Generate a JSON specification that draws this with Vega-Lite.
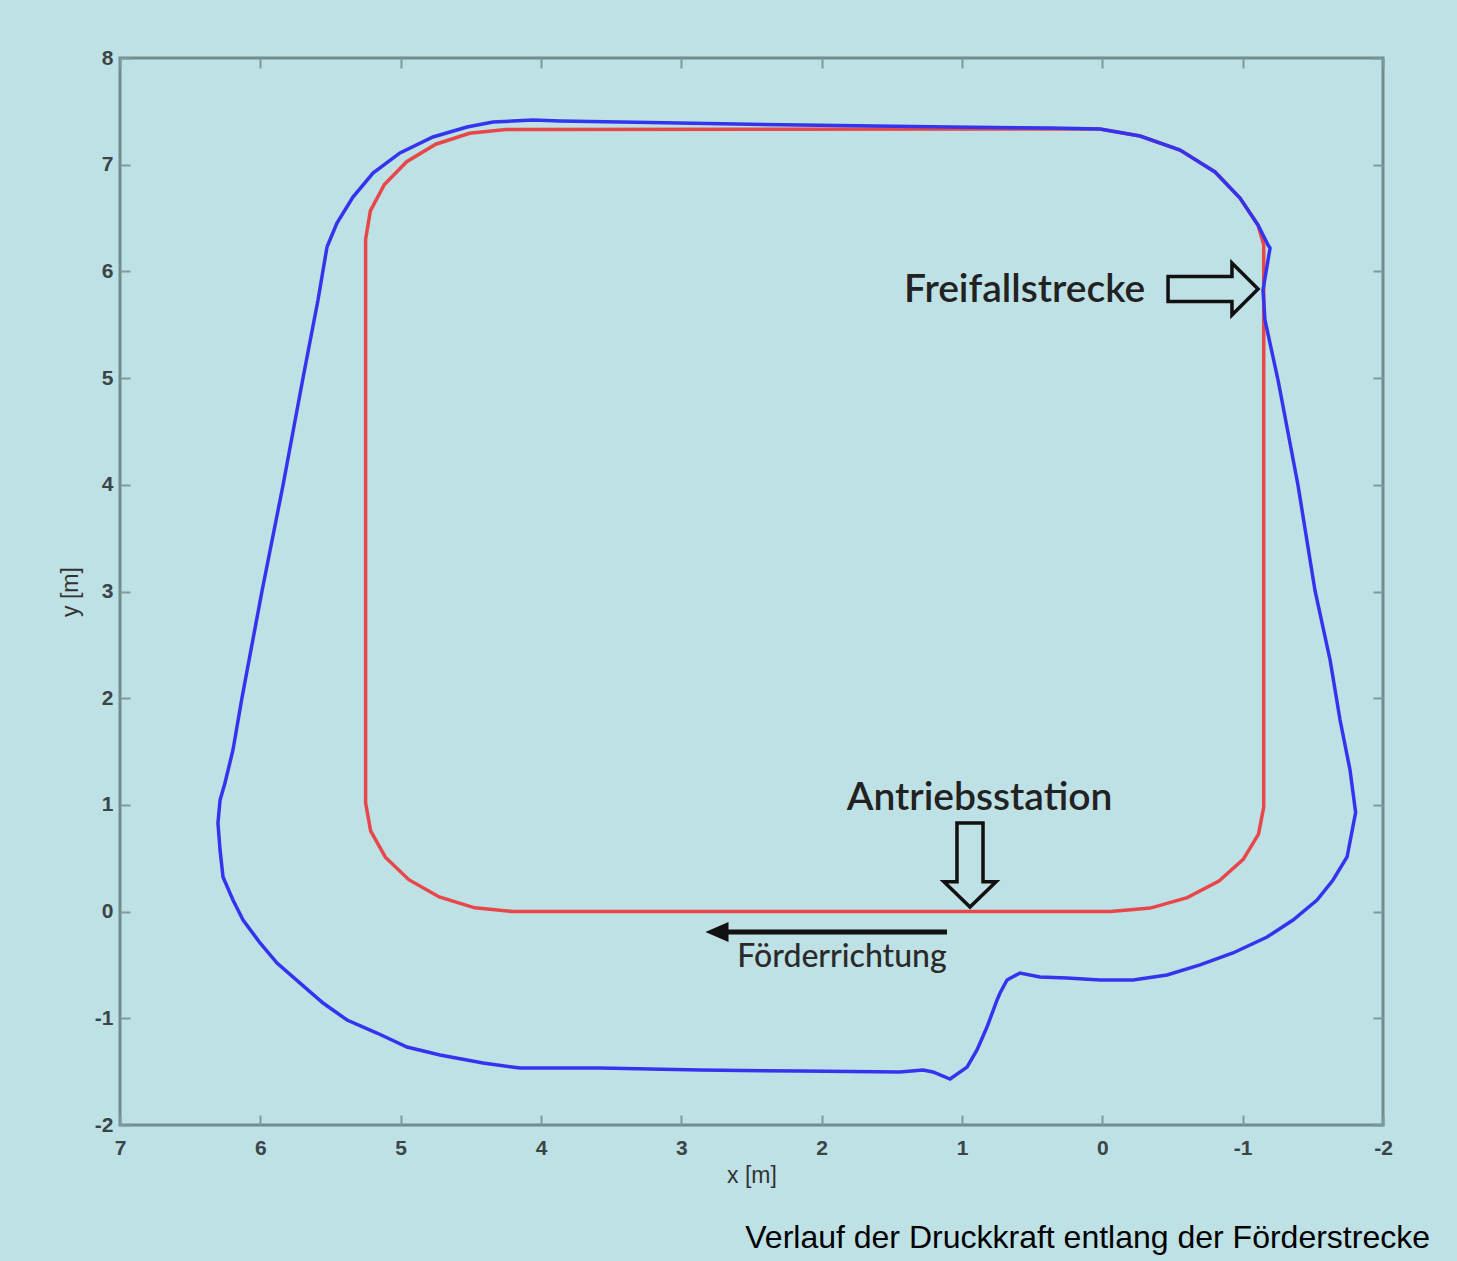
{
  "$schema": "https://vega.github.io/schema/vega-lite/v6.json",
  "width": 1263,
  "height": 1067,
  "autosize": {"type": "none"},
  "padding": {"left": 120, "top": 58, "right": 74, "bottom": 136},
  "background": "#bee1e5",
  "config": {
    "view": {"stroke": "#6f8c8f", "strokeWidth": 3},
    "axis": {
      "grid": false,
      "domain": false,
      "tickSize": -10,
      "tickWidth": 2,
      "tickColor": "#7f9a9d",
      "labelFont": "Liberation Sans",
      "labelFontSize": 21,
      "labelFontWeight": "bold",
      "labelColor": "#3a4547",
      "labelFlush": false,
      "labelOverlap": false,
      "titleFont": "Liberation Sans",
      "titleFontSize": 23,
      "titleFontWeight": "normal",
      "titleColor": "#333333"
    }
  },
  "title": {
    "text": "Verlauf der Druckkraft entlang der Förderstrecke",
    "orient": "bottom",
    "anchor": "end",
    "frame": "group",
    "font": "Liberation Sans",
    "fontSize": 32,
    "fontWeight": "normal",
    "color": "#000000",
    "offset": 36,
    "dx": 47
  },
  "datasets": {
    "red": [
      {"i": 0, "x": -0.06, "y": 0},
      {"i": 1, "x": 4.2, "y": 0},
      {"i": 2, "x": 4.472, "y": 0.035},
      {"i": 3, "x": 4.725, "y": 0.137},
      {"i": 4, "x": 4.942, "y": 0.299},
      {"i": 5, "x": 5.109, "y": 0.51},
      {"i": 6, "x": 5.214, "y": 0.756},
      {"i": 7, "x": 5.25, "y": 1.02},
      {"i": 8, "x": 5.25, "y": 6.3},
      {"i": 9, "x": 5.216, "y": 6.567},
      {"i": 10, "x": 5.116, "y": 6.815},
      {"i": 11, "x": 4.957, "y": 7.028},
      {"i": 12, "x": 4.75, "y": 7.192},
      {"i": 13, "x": 4.509, "y": 7.295},
      {"i": 14, "x": 4.25, "y": 7.33},
      {"i": 15, "x": 0.017, "y": 7.335},
      {"i": 16, "x": -0.269, "y": 7.269},
      {"i": 17, "x": -0.554, "y": 7.138},
      {"i": 18, "x": -0.803, "y": 6.932},
      {"i": 19, "x": -0.981, "y": 6.688},
      {"i": 20, "x": -1.109, "y": 6.435},
      {"i": 21, "x": -1.15, "y": 6.25},
      {"i": 22, "x": -1.15, "y": 0.98},
      {"i": 23, "x": -1.113, "y": 0.726},
      {"i": 24, "x": -1.004, "y": 0.49},
      {"i": 25, "x": -0.831, "y": 0.287},
      {"i": 26, "x": -0.605, "y": 0.131},
      {"i": 27, "x": -0.342, "y": 0.033},
      {"i": 28, "x": -0.06, "y": 0}
    ],
    "blue": [
      {"i": 0, "x": 5.525, "y": 6.229},
      {"i": 1, "x": 5.454, "y": 6.454},
      {"i": 2, "x": 5.34, "y": 6.697},
      {"i": 3, "x": 5.197, "y": 6.922},
      {"i": 4, "x": 5.005, "y": 7.11},
      {"i": 5, "x": 4.77, "y": 7.26},
      {"i": 6, "x": 4.527, "y": 7.353},
      {"i": 7, "x": 4.342, "y": 7.4},
      {"i": 8, "x": 4.057, "y": 7.419},
      {"i": 9, "x": 3.865, "y": 7.41},
      {"i": 10, "x": 3.223, "y": 7.395},
      {"i": 11, "x": 2.154, "y": 7.372},
      {"i": 12, "x": 1.085, "y": 7.353},
      {"i": 13, "x": 0.373, "y": 7.344},
      {"i": 14, "x": 0.017, "y": 7.335},
      {"i": 15, "x": -0.269, "y": 7.269},
      {"i": 16, "x": -0.554, "y": 7.138},
      {"i": 17, "x": -0.803, "y": 6.932},
      {"i": 18, "x": -0.981, "y": 6.688},
      {"i": 19, "x": -1.109, "y": 6.435},
      {"i": 20, "x": -1.181, "y": 6.247},
      {"i": 21, "x": -1.195, "y": 6.219},
      {"i": 22, "x": -1.145, "y": 5.826},
      {"i": 23, "x": -1.159, "y": 5.544},
      {"i": 24, "x": -1.252, "y": 4.982},
      {"i": 25, "x": -1.394, "y": 3.998},
      {"i": 26, "x": -1.516, "y": 3.005},
      {"i": 27, "x": -1.623, "y": 2.358},
      {"i": 28, "x": -1.694, "y": 1.796},
      {"i": 29, "x": -1.765, "y": 1.327},
      {"i": 30, "x": -1.805, "y": 0.93},
      {"i": 31, "x": -1.744, "y": 0.512},
      {"i": 32, "x": -1.644, "y": 0.296},
      {"i": 33, "x": -1.53, "y": 0.109},
      {"i": 34, "x": -1.359, "y": -0.079},
      {"i": 35, "x": -1.174, "y": -0.238},
      {"i": 36, "x": -0.931, "y": -0.388},
      {"i": 37, "x": -0.696, "y": -0.5},
      {"i": 38, "x": -0.461, "y": -0.594},
      {"i": 39, "x": -0.219, "y": -0.641},
      {"i": 40, "x": 0.017, "y": -0.641},
      {"i": 41, "x": 0.252, "y": -0.622},
      {"i": 42, "x": 0.444, "y": -0.613},
      {"i": 43, "x": 0.587, "y": -0.576},
      {"i": 44, "x": 0.679, "y": -0.641},
      {"i": 45, "x": 0.729, "y": -0.763},
      {"i": 46, "x": 0.75, "y": -0.828},
      {"i": 47, "x": 0.822, "y": -1.082},
      {"i": 48, "x": 0.893, "y": -1.297},
      {"i": 49, "x": 0.964, "y": -1.457},
      {"i": 50, "x": 1.085, "y": -1.569},
      {"i": 51, "x": 1.207, "y": -1.503},
      {"i": 52, "x": 1.278, "y": -1.485},
      {"i": 53, "x": 1.442, "y": -1.503},
      {"i": 54, "x": 2.154, "y": -1.494},
      {"i": 55, "x": 2.867, "y": -1.485},
      {"i": 56, "x": 3.58, "y": -1.466},
      {"i": 57, "x": 3.865, "y": -1.466},
      {"i": 58, "x": 4.15, "y": -1.466},
      {"i": 59, "x": 4.413, "y": -1.419},
      {"i": 60, "x": 4.72, "y": -1.344},
      {"i": 61, "x": 4.955, "y": -1.269},
      {"i": 62, "x": 5.169, "y": -1.138},
      {"i": 63, "x": 5.382, "y": -1.016},
      {"i": 64, "x": 5.553, "y": -0.857},
      {"i": 65, "x": 5.717, "y": -0.67},
      {"i": 66, "x": 5.881, "y": -0.482},
      {"i": 67, "x": 6.002, "y": -0.294},
      {"i": 68, "x": 6.123, "y": -0.079},
      {"i": 69, "x": 6.195, "y": 0.109},
      {"i": 70, "x": 6.266, "y": 0.324},
      {"i": 71, "x": 6.287, "y": 0.577},
      {"i": 72, "x": 6.302, "y": 0.83},
      {"i": 73, "x": 6.287, "y": 1.046},
      {"i": 74, "x": 6.252, "y": 1.205},
      {"i": 75, "x": 6.195, "y": 1.515},
      {"i": 76, "x": 6.131, "y": 2.002},
      {"i": 77, "x": 5.988, "y": 3.005},
      {"i": 78, "x": 5.838, "y": 3.998},
      {"i": 79, "x": 5.696, "y": 5.001},
      {"i": 80, "x": 5.589, "y": 5.732},
      {"i": 81, "x": 5.525, "y": 6.229}
    ]
  },
  "layer": [
    {
      "data": {"name": "red"},
      "mark": {"type": "line", "color": "#e8474a", "strokeWidth": 3.5},
      "encoding": {
        "x": {
          "field": "x", "type": "quantitative",
          "scale": {"domain": [-2, 7], "reverse": true, "nice": false, "zero": false},
          "axis": {
            "orient": "bottom",
            "values": [-2, -1, 0, 1, 2, 3, 4, 5, 6, 7],
            "labelExpr": "datum.value + ''",
            "labelPadding": 22,
            "title": "x [m]",
            "titlePadding": 6
          }
        },
        "y": {
          "field": "y", "type": "quantitative",
          "scale": {"domain": [-2, 8], "nice": false, "zero": false},
          "axis": {
            "orient": "left",
            "values": [-2, -1, 0, 1, 2, 3, 4, 5, 6, 7, 8],
            "labelExpr": "datum.value + ''",
            "labelPadding": 17,
            "title": "y [m]",
            "titlePadding": 12
          }
        },
        "order": {"field": "i", "type": "quantitative"}
      }
    },
    {
      "data": {"name": "blue"},
      "mark": {"type": "line", "color": "#3434ee", "strokeWidth": 3.5},
      "encoding": {
        "x": {
          "field": "x", "type": "quantitative",
          "axis": {
            "orient": "top",
            "values": [-2, -1, 0, 1, 2, 3, 4, 5, 6, 7],
            "labels": false,
            "title": null
          }
        },
        "y": {
          "field": "y", "type": "quantitative",
          "axis": {
            "orient": "right",
            "values": [-2, -1, 0, 1, 2, 3, 4, 5, 6, 7, 8],
            "labels": false,
            "title": null
          }
        },
        "order": {"field": "i", "type": "quantitative"}
      }
    },
    {
      "data": {"values": [{"x": 1.107, "x2": 2.675, "y": -0.191}]},
      "mark": {"type": "rule", "color": "#111111", "strokeWidth": 5},
      "encoding": {
        "x": {"field": "x", "type": "quantitative", "axis": null},
        "x2": {"field": "x2"},
        "y": {"field": "y", "type": "quantitative", "axis": null}
      }
    },
    {
      "data": {"values": [{"x": 2.746, "y": -0.191}]},
      "mark": {"type": "point", "shape": "M1,-0.87 L-1,0 L1,0.87 Z", "filled": true, "color": "#111111", "size": 529, "opacity": 1},
      "encoding": {
        "x": {"field": "x", "type": "quantitative", "axis": null},
        "y": {"field": "y", "type": "quantitative", "axis": null}
      }
    },
    {
      "data": {"values": [{"x": -0.789, "y": 5.835}]},
      "mark": {"type": "point", "shape": "M-1,-0.28 L0.42,-0.28 L0.42,-0.58 L1,0 L0.42,0.58 L0.42,0.28 L-1,0.28 Z", "filled": false, "stroke": "#111111", "strokeWidth": 3.5, "size": 8100, "opacity": 1},
      "encoding": {
        "x": {"field": "x", "type": "quantitative", "axis": null},
        "y": {"field": "y", "type": "quantitative", "axis": null}
      }
    },
    {
      "data": {"values": [{"x": 0.943, "y": 0.437}]},
      "mark": {"type": "point", "shape": "M-0.31,-1 L0.31,-1 L0.31,0.4 L0.62,0.4 L0,1 L-0.62,0.4 L-0.31,0.4 Z", "filled": false, "stroke": "#111111", "strokeWidth": 3.5, "size": 7056, "opacity": 1},
      "encoding": {
        "x": {"field": "x", "type": "quantitative", "axis": null},
        "y": {"field": "y", "type": "quantitative", "axis": null}
      }
    },
    {
      "data": {"values": [
        {"label": "Freifallstrecke", "x": 0.554, "y": 5.713},
        {"label": "Antriebsstation", "x": 0.875, "y": 0.952}
      ]},
      "mark": {"type": "text", "font": "Lato", "fontSize": 39, "fontWeight": 600, "color": "#222222", "align": "center", "baseline": "alphabetic"},
      "encoding": {
        "x": {"field": "x", "type": "quantitative", "axis": null},
        "y": {"field": "y", "type": "quantitative", "axis": null},
        "text": {"field": "label"}
      }
    },
    {
      "data": {"values": [{"label": "Förderrichtung", "x": 1.855, "y": -0.519}]},
      "mark": {"type": "text", "font": "Lato", "fontSize": 32, "fontWeight": 500, "color": "#2a2a2a", "align": "center", "baseline": "alphabetic"},
      "encoding": {
        "x": {"field": "x", "type": "quantitative", "axis": null},
        "y": {"field": "y", "type": "quantitative", "axis": null},
        "text": {"field": "label"}
      }
    }
  ],
  "resolve": {"axis": {"x": "independent", "y": "independent"}}
}
